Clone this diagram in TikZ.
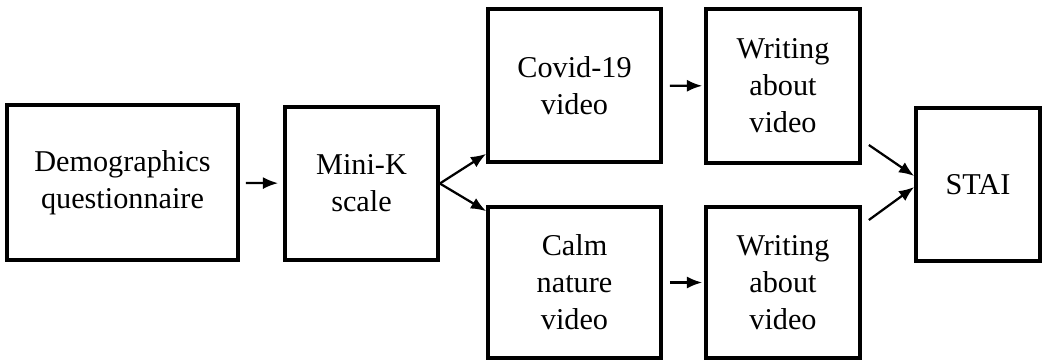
\documentclass[tikz,border=0pt]{standalone}
\usepackage{fontspec}
\setmainfont{Liberation Serif}
\usetikzlibrary{arrows.meta}
\begin{document}
\begin{tikzpicture}[x=0.025cm, y=-0.025cm,
  box/.style={draw, rectangle, line width=2.6pt, align=center, inner sep=0pt,
    font=\fontsize{21.5}{26.3}\selectfont},
  arr/.style={-{Latex[length=0.38cm,width=0.3cm]}, line width=1.6pt}]
\useasboundingbox (0,0) rectangle (1043,360);
\node[box, minimum width=5.775cm, minimum height=3.875cm] (D) at (122.5,182.5) {Demographics\\questionnaire};
\node[box, minimum width=3.825cm, minimum height=3.825cm] (M) at (361.5,183.5) {Mini-K\\scale};
\node[box, minimum width=4.325cm, minimum height=3.825cm] (C) at (574.5,85.5) {Covid-19\\video};
\node[box, minimum width=4.325cm, minimum height=3.775cm] (N) at (574.5,282.5) {Calm\\nature\\video};
\node[box, minimum width=3.85cm, minimum height=3.85cm] (WC) at (783,86) {Writing\\about\\video};
\node[box, minimum width=3.85cm, minimum height=3.775cm] (WN) at (783,282.5) {Writing\\about\\video};
\node[box, minimum width=3.1cm, minimum height=3.825cm] (S) at (978,184.5) {STAI};
\draw[arr, shorten <=0.15cm, shorten >=0.125cm] (D) -- (M);
\draw[arr] (M.east) -- ([shift={(0,-10)}]C.south west);
\draw[arr] (M.east) -- ([shift={(0,6)}]N.north west);
\draw[arr, shorten <=0.175cm, shorten >=0.05cm] (C) -- (WC);
\draw[arr, shorten <=0.175cm, shorten >=0.05cm] (N) -- (WN);
\draw[arr] ([shift={(7,59)}]WC.east) -- ([shift={(0,-8.5)}]S.west);
\draw[arr] ([shift={(7,-62.5)}]WN.east) -- ([shift={(0,2.5)}]S.west);
\end{tikzpicture}
\end{document}
